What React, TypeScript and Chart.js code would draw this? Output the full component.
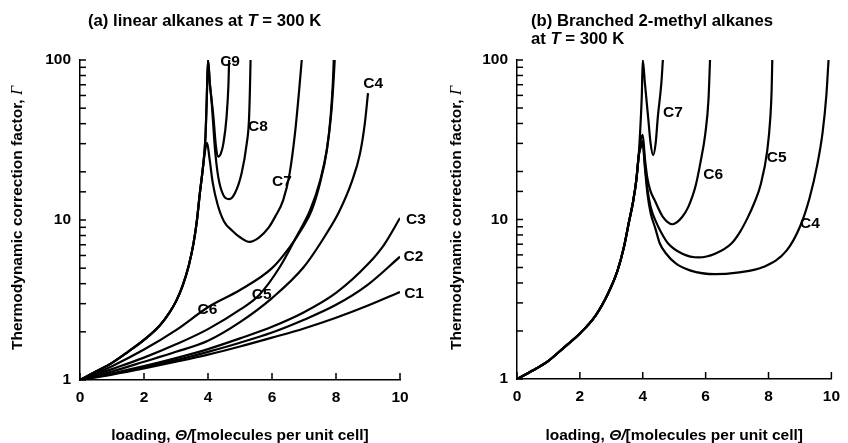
import React, { useEffect, useRef } from 'react';
import { Chart, registerables } from 'chart.js';

Chart.register(...registerables);

// ---------- data: panel (a) linear alkanes ----------
const aC1x = [0, 1, 2, 3, 4, 5, 6, 7, 8, 9, 10];
const aC1y = [1, 1.08, 1.18, 1.3, 1.44, 1.62, 1.84, 2.1, 2.45, 2.92, 3.55];
const aC2x = [0, 1, 2, 3, 4, 5, 6, 7, 8, 9, 10];
const aC2y = [1, 1.09, 1.2, 1.33, 1.5, 1.71, 1.98, 2.38, 2.95, 3.95, 5.9];
const aC3x = [0, 1, 2, 3, 4, 5, 6, 7, 8, 9, 9.5, 10];
const aC3y = [1, 1.1, 1.22, 1.37, 1.56, 1.82, 2.15, 2.65, 3.5, 5.3, 7.0, 10.3];
const aC4x = [0, 1, 2, 3, 4, 5, 6, 7, 7.7, 8.1, 8.5, 8.75, 8.9, 9.0];
const aC4y = [1, 1.13, 1.3, 1.5, 1.76, 2.3, 3.25, 5.1, 8.2, 11.3, 17.5, 26, 40, 62];
const aC5x = [0, 1, 2, 3, 4, 5, 5.6, 6.25, 6.77, 7.19, 7.5, 7.72, 7.85, 7.92, 7.96];
const aC5y = [1, 1.17, 1.38, 1.67, 2.08, 2.75, 3.4, 5.1, 7.9, 11.5, 17.5, 28, 46, 72, 100];
const aC6x = [0, 1, 2, 3, 4, 5, 6, 6.56, 6.98, 7.24, 7.5, 7.71, 7.83, 7.9, 7.93];
const aC6y = [1, 1.22, 1.55, 2.05, 2.85, 3.65, 5.0, 6.8, 9.1, 11.5, 17, 27, 44, 71, 100];
const aC7x = [0, 0.5, 1, 1.5, 2, 2.5, 2.8, 3.0, 3.2, 3.4, 3.55, 3.65, 3.75, 3.85, 3.92, 3.97, 4.05, 4.15, 4.3, 4.5, 4.75, 5.0, 5.3, 5.6, 5.9, 6.1, 6.35, 6.55, 6.72, 6.84, 6.93];
const aC7y = [1, 1.13, 1.28, 1.5, 1.78, 2.2, 2.65, 3.1, 3.85, 5.2, 7.2, 9.8, 15, 22, 28, 30.3, 24, 17, 12.5, 9.8, 8.6, 7.8, 7.3, 7.8, 9.0, 10.5, 13.3, 19.5, 35, 62, 100];
const aC8x = [0, 0.5, 1, 1.5, 2, 2.5, 2.8, 3.0, 3.2, 3.4, 3.55, 3.65, 3.75, 3.85, 3.92, 3.96, 4.0, 4.06, 4.11, 4.22, 4.32, 4.48, 4.66, 4.84, 5.05, 5.21, 5.28, 5.31, 5.33];
const aC8y = [1, 1.13, 1.28, 1.5, 1.78, 2.2, 2.65, 3.1, 3.85, 5.2, 7.2, 9.8, 15, 22, 33, 56, 100, 70, 56, 27.4, 18.6, 14.3, 13.5, 14.7, 19.6, 30, 42, 65, 100];
const aC9x = [0, 0.5, 1, 1.5, 2, 2.5, 2.8, 3.0, 3.2, 3.4, 3.55, 3.65, 3.75, 3.85, 3.92, 3.96, 4.0, 4.06, 4.17, 4.25, 4.32, 4.4, 4.48, 4.58, 4.64, 4.66];
const aC9y = [1, 1.13, 1.28, 1.5, 1.78, 2.2, 2.65, 3.1, 3.85, 5.2, 7.2, 9.8, 15, 22, 33, 56, 100, 71, 44, 28.7, 24.9, 26, 30, 44, 71, 100];

// ---------- data: panel (b) branched 2-methyl alkanes ----------
const bBranchX = [0, 0.5, 1, 1.5, 2, 2.5, 2.9, 3.2, 3.4, 3.55, 3.7, 3.8, 3.87];
const bBranchY = [1, 1.13, 1.3, 1.58, 1.93, 2.5, 3.45, 4.8, 6.7, 9.4, 13.2, 18, 25];
const bC4x = [3.93, 4.0, 4.07, 4.15, 4.25, 4.4, 4.54, 4.74, 5.05, 5.5, 6.3, 7.0, 7.85, 8.58, 9.0, 9.3, 9.55, 9.72, 9.84, 9.91];
const bC4y = [28, 29.5, 21, 14.5, 11, 8.8, 7.1, 6.12, 5.3, 4.8, 4.54, 4.65, 5.05, 6.4, 9.0, 13.5, 22, 35, 60, 100];
const bC5x = [3.93, 4.0, 4.07, 4.15, 4.25, 4.43, 4.6, 4.8, 5.26, 5.78, 6.3, 6.82, 7.1, 7.33, 7.54, 7.75, 7.96, 8.06, 8.1, 8.12];
const bC5y = [29, 31, 22, 15.5, 12, 9.6, 8.2, 7.1, 6.1, 5.78, 6.1, 7.07, 8.4, 10.2, 12.6, 16.5, 27, 44, 65, 100];
const bC6x = [3.93, 4.0, 4.07, 4.15, 4.25, 4.38, 4.64, 4.95, 5.26, 5.45, 5.57, 5.68, 5.83, 5.99, 6.09, 6.14];
const bC6y = [31, 34, 24, 18, 15, 13.2, 10.4, 9.34, 10.4, 12, 13.8, 16.2, 22.5, 34.6, 56, 100];
const bC7x = [3.93, 3.97, 4.0, 4.07, 4.17, 4.25, 4.33, 4.41, 4.48, 4.59, 4.64];
const bC7y = [40, 60, 100, 71, 44, 30, 25.3, 30, 44, 71, 100];

// ---------- axes ----------
const xTicks = [0, 2, 4, 6, 8, 10];
const yLabelled = [1, 10, 100];

// ---------- curve labels (data coordinates) ----------
const labelsA = [
  { text: 'C1', x: 10.44, y: 3.45 },
  { text: 'C2', x: 10.42, y: 5.9 },
  { text: 'C3', x: 10.5, y: 10.1 },
  { text: 'C4', x: 9.16, y: 70.8 },
  { text: 'C5', x: 5.68, y: 3.4 },
  { text: 'C6', x: 3.98, y: 2.74 },
  { text: 'C7', x: 6.31, y: 17.3 },
  { text: 'C8', x: 5.56, y: 38.1 },
  { text: 'C9', x: 4.69, y: 98 },
];
const labelsB = [
  { text: 'C4', x: 9.32, y: 9.35 },
  { text: 'C5', x: 8.26, y: 24.4 },
  { text: 'C6', x: 6.24, y: 19.2 },
  { text: 'C7', x: 4.96, y: 46.4 },
];

const INK = '#000';
const SANS = "'Liberation Sans', Arial, Helvetica, sans-serif";
const SERIF = "'Liberation Serif', 'Times New Roman', serif";
const fHead = `bold 16.7px ${SANS}`;
const fHeadI = `italic bold 16.7px ${SANS}`;
const fTitle = `bold 15.5px ${SANS}`;
const fTitleI = `italic bold 15.5px ${SANS}`;
const fSerifI = `italic 16px ${SERIF}`;
const fTick = `bold 15.5px ${SANS}`;

const pts = (xs: number[], ys: number[]) => xs.map((x, i) => ({ x, y: ys[i] }));

type Seg = [string, string];

function drawSegs(ctx: CanvasRenderingContext2D, segs: Seg[], x: number, y: number, center: boolean) {
  const widths = segs.map(([t, f]) => {
    ctx.font = f;
    return ctx.measureText(t).width;
  });
  const total = widths.reduce((a, b) => a + b, 0);
  let cx = center ? x - total / 2 : x;
  ctx.textAlign = 'left';
  segs.forEach(([t, f], i) => {
    ctx.font = f;
    ctx.fillText(t, cx, y);
    cx += widths[i];
  });
}

interface PanelCfg {
  series: { x: number[]; y: number[] }[];
  labels: { text: string; x: number; y: number }[];
  titleLines: { x: number; y: number; segs: Seg[] }[];
  yTitleX: number;
  yTitleY: number;
  xTitleY: number;
  yWidth: number;
  xHeight: number;
  padRight: number;
}

function makeDecor(cfg: PanelCfg) {
  return {
    id: 'decor',
    afterDraw(chart: any) {
      const ctx: CanvasRenderingContext2D = chart.ctx;
      const xs = chart.scales.x;
      const ys = chart.scales.y;
      const area = chart.chartArea;
      ctx.save();
      ctx.strokeStyle = INK;
      ctx.lineWidth = 1.5;
      ys.ticks.forEach((t: any) => {
        const py = ys.getPixelForValue(t.value);
        ctx.beginPath();
        ctx.moveTo(area.left, py);
        ctx.lineTo(area.left + 6, py);
        ctx.stroke();
      });
      xs.ticks.forEach((t: any) => {
        const px = xs.getPixelForValue(t.value);
        ctx.beginPath();
        ctx.moveTo(px, area.bottom);
        ctx.lineTo(px, area.bottom - 7);
        ctx.stroke();
      });
      ctx.fillStyle = INK;
      ctx.font = fTick;
      ctx.textAlign = 'center';
      ctx.textBaseline = 'middle';
      cfg.labels.forEach((l) => {
        ctx.fillText(l.text, xs.getPixelForValue(l.x), ys.getPixelForValue(l.y));
      });
      ctx.textBaseline = 'alphabetic';
      cfg.titleLines.forEach((ln) => drawSegs(ctx, ln.segs, ln.x, ln.y, false));
      drawSegs(
        ctx,
        [
          ['loading, ', fTitle],
          ['Θ/', fTitleI],
          ['[molecules per unit cell]', fTitle],
        ],
        (area.left + area.right) / 2,
        cfg.xTitleY,
        true
      );
      ctx.save();
      ctx.translate(cfg.yTitleX, cfg.yTitleY);
      ctx.rotate(-Math.PI / 2);
      ctx.textBaseline = 'middle';
      drawSegs(
        ctx,
        [
          ['Thermodynamic correction factor, ', fTitle],
          ['Γ', fSerifI],
        ],
        0,
        0,
        true
      );
      ctx.restore();
      ctx.restore();
    },
  };
}

function Panel({ left, width, cfg }: { left: number; width: number; cfg: PanelCfg }) {
  const ref = useRef<HTMLCanvasElement>(null);
  useEffect(() => {
    const canvas = ref.current;
    if (!canvas) return;
    const chart = new Chart(canvas, {
      type: 'line',
      data: {
        datasets: cfg.series.map((s) => ({
          data: pts(s.x, s.y),
          borderColor: INK,
          borderWidth: 2.2,
          pointRadius: 0,
          fill: false,
          cubicInterpolationMode: 'monotone' as const,
        })),
      },
      options: {
        responsive: false,
        animation: false,
        devicePixelRatio: 1,
        layout: { padding: { top: 60, right: cfg.padRight, bottom: 0, left: 0 } },
        plugins: { legend: { display: false }, tooltip: { enabled: false }, title: { display: false } },
        scales: {
          x: {
            type: 'linear',
            min: 0,
            max: 10,
            grid: { display: false, drawTicks: false },
            border: { display: true, color: INK, width: 1.5 },
            ticks: {
              stepSize: 2,
              padding: 8,
              color: INK,
              font: { family: SANS, size: 15.5, weight: 'bold' },
              callback: (v: any) => (xTicks.includes(Number(v)) ? String(v) : ''),
            },
            afterFit: (s: any) => {
              s.height = cfg.xHeight;
            },
          },
          y: {
            type: 'logarithmic',
            min: 1,
            max: 100,
            grid: { display: false, drawTicks: false },
            border: { display: true, color: INK, width: 1.5 },
            ticks: {
              autoSkip: false,
              padding: 9,
              color: INK,
              font: { family: SANS, size: 15.5, weight: 'bold' },
              callback: (v: any) => (yLabelled.includes(Number(v)) ? String(v) : ''),
            },
            afterFit: (s: any) => {
              s.width = cfg.yWidth;
            },
          },
        },
      } as any,
      plugins: [makeDecor(cfg)],
    });
    return () => chart.destroy();
  }, []);
  return (
    <canvas
      ref={ref}
      width={width}
      height={443}
      style={{ position: 'absolute', left, top: 0, width, height: 443 }}
    />
  );
}

const cfgA: PanelCfg = {
  series: [
    { x: aC1x, y: aC1y },
    { x: aC2x, y: aC2y },
    { x: aC3x, y: aC3y },
    { x: aC4x, y: aC4y },
    { x: aC5x, y: aC5y },
    { x: aC6x, y: aC6y },
    { x: aC7x, y: aC7y },
    { x: aC8x, y: aC8y },
    { x: aC9x, y: aC9y },
  ],
  labels: labelsA,
  titleLines: [
    {
      x: 88,
      y: 26,
      segs: [
        ['(a) linear alkanes at ', fHead],
        ['T', fHeadI],
        [' = 300 K', fHead],
      ],
    },
  ],
  yTitleX: 18,
  yTitleY: 218,
  xTitleY: 440,
  yWidth: 80,
  xHeight: 63,
  padRight: 30,
};

const cfgB: PanelCfg = {
  series: [
    { x: [...bBranchX, ...bC4x], y: [...bBranchY, ...bC4y] },
    { x: [...bBranchX, ...bC5x], y: [...bBranchY, ...bC5y] },
    { x: [...bBranchX, ...bC6x], y: [...bBranchY, ...bC6y] },
    { x: [...bBranchX, ...bC7x], y: [...bBranchY, ...bC7y] },
  ],
  labels: labelsB,
  titleLines: [
    { x: 107, y: 26, segs: [['(b) Branched 2-methyl alkanes', fHead]] },
    {
      x: 107,
      y: 44,
      segs: [
        ['at ', fHead],
        ['T', fHeadI],
        [' = 300 K', fHead],
      ],
    },
  ],
  yTitleX: 33,
  yTitleY: 218,
  xTitleY: 440,
  yWidth: 93,
  xHeight: 64,
  padRight: 9,
};

export default function App() {
  return (
    <div
      style={{
        position: 'absolute',
        left: 0,
        top: 0,
        width: 848,
        height: 443,
        background: '#fff',
        overflow: 'hidden',
      }}
    >
      <Panel left={0} width={430} cfg={cfgA} />
      <Panel left={424} width={424} cfg={cfgB} />
    </div>
  );
}
